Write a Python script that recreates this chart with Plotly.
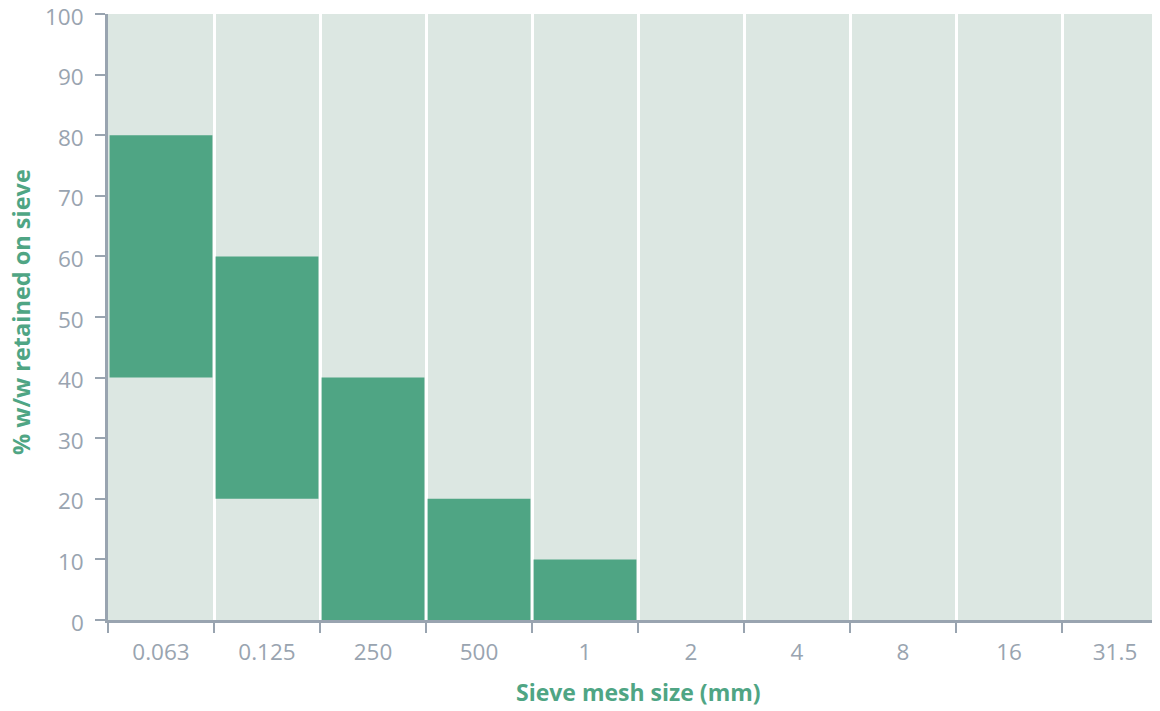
import plotly.graph_objects as go

categories = ["0.063", "0.125", "250", "500", "1", "2", "4", "8", "16", "31.5"]
lower = [40, 20, 0, 0, 0, 0, 0, 0, 0, 0]
upper = [80, 60, 40, 20, 10, 0, 0, 0, 0, 0]
heights = [u - l for u, l in zip(upper, lower)]
y_ticks = [0, 10, 20, 30, 40, 50, 60, 70, 80, 90, 100]

GREEN = "#4fa584"
BG = "#dce7e2"
GREY = "#99a4b0"

fig = go.Figure(go.Bar(
    x=categories, y=heights, base=lower,
    marker=dict(color=GREEN, line=dict(width=0)),
    hoverinfo="skip",
))

fig.update_layout(
    width=1160, height=711,
    margin=dict(l=100, r=0, t=6, b=99),
    paper_bgcolor="white", plot_bgcolor=BG,
    bargap=0.03,
    showlegend=False,
    font=dict(family="Open Sans", size=22, color=GREY),
)
fig.update_xaxes(
    type="category", range=[-0.5, 9.5], automargin=False,
    tickson="boundaries", ticks="outside", ticklen=10, tickwidth=2, tickcolor=GREY,
    showgrid=True, gridcolor="white", gridwidth=3,
    showline=True, linecolor=GREY, linewidth=3,
    tickfont=dict(size=22.5, color=GREY), ticklabelstandoff=10,
    ticklabeloverflow="allow",
    zeroline=False,
)
fig.update_yaxes(
    range=[0, 100], tickvals=y_ticks, ticks="outside", ticklen=10, tickwidth=2, tickcolor=GREY,
    showgrid=False, zeroline=False, automargin=False, showticklabels=False,
    showline=True, linecolor=GREY, linewidth=3,
)

for v in y_ticks:
    fig.add_annotation(
        text=str(v), xref="paper", yref="y", x=-(100 - 78) / 1060, y=v,
        xanchor="right", yanchor="middle", yshift=-2, showarrow=False,
        font=dict(size=22.5, color=GREY),
    )

fig.add_annotation(
    text="<b>Sieve mesh size (mm)</b>", xref="paper", yref="paper",
    x=(630 - 100) / 1060, y=-(684 - 612) / 606, xanchor="center", yanchor="middle",
    showarrow=False, font=dict(size=23, color=GREEN),
)
fig.add_annotation(
    text="<b>% w/w retained on sieve</b>", xref="paper", yref="paper",
    x=-(100 - 13) / 1060, y=(612 - 304) / 606, xanchor="center", yanchor="middle",
    textangle=-90, showarrow=False, font=dict(size=23.5, color=GREEN),
)

fig.write_html("out.html")
